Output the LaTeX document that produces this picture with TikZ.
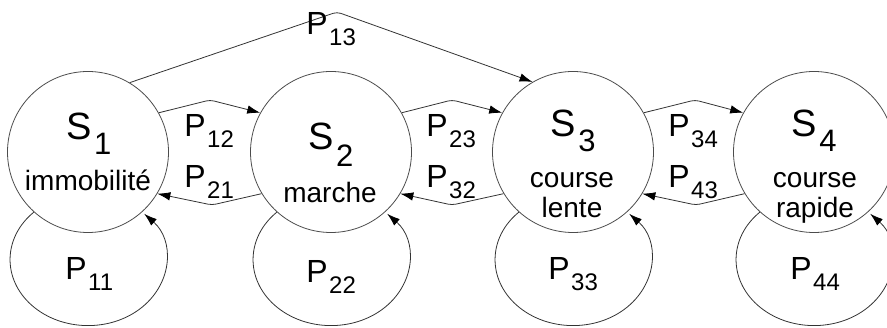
\documentclass[tikz,border=0pt]{standalone}
\usepackage{fontspec}
\setmainfont{Liberation Sans}
\usetikzlibrary{arrows.meta}
\newcommand{\Plab}[1]{{\fontsize{32}{32}\selectfont P\kern1.5pt\raisebox{-11pt}{\fontsize{24}{24}\selectfont #1}}}
\newcommand{\Slab}[2]{{\fontsize{38}{38}\selectfont S\kern2.5pt\raisebox{-#2pt}{\fontsize{31}{31}\selectfont #1}}}
\begin{document}
\begin{tikzpicture}[x=1pt,y=1pt,
  line width=0.8pt,
  state/.style={circle,draw=black!70,minimum size=161pt,inner sep=0pt},
  conn/.style={draw=black!80,rounded corners=4pt,-{Latex[length=13pt,width=8.5pt,black]}},
  loopc/.style={draw=black!80,-{Latex[length=13pt,width=8.5pt,black]}},
  lab/.style={anchor=base west,inner sep=0pt},
  desc/.style={anchor=base,inner sep=0pt,font=\fontsize{28}{28}\selectfont}]
\useasboundingbox (0,0) rectangle (887,327);
% states
\node[state] (S1) at (88,175) {};
\node[state] (S2) at (331,175) {};
\node[state] (S3) at (573,175) {};
\node[state] (S4) at (814,175) {};
% state labels
\node[lab] (t1) at (66,187) {\Slab{1}{15}};
\node[lab] (t2) at (308,177) {\Slab{2}{17}};
\node[lab] (t3) at (550,190) {\Slab{3}{15}};
\node[lab] (t4) at (791,190) {\Slab{4}{15}};
\node[desc] (d1) at (88,136) {immobilité};
\node[desc] (d2) at (330,124) {marche};
\node[desc] (d3a) at (572,139) {course};
\node[desc] (d3b) at (572,109) {lente};
\node[desc] (d4a) at (815,139) {course};
\node[desc] (d4b) at (815,109) {rapide};
% bend points
\coordinate (c13) at (337,315);
\coordinate (c12) at (210,227);
\coordinate (c21) at (212,122);
\coordinate (c23) at (452,227);
\coordinate (c32) at (452,122);
\coordinate (c34) at (695,227);
\coordinate (c43) at (696,122);
% transitions
\draw[conn] (S1.59) -- (c13) -- (S3.120);
\draw[conn] (S1.29) -- (c12) -- (S2.151);
\draw[conn] (S2.211) -- (c21) -- (S1.329);
\draw[conn] (S2.29) -- (c23) -- (S3.151);
\draw[conn] (S3.211) -- (c32) -- (S2.329);
\draw[conn] (S3.29) -- (c34) -- (S4.151);
\draw[conn] (S4.211) -- (c43) -- (S3.329);
% self loops
\draw[loopc] (S1.228) arc[start angle=134,end angle=404,x radius=78,y radius=66];
\draw[loopc] (S2.228) arc[start angle=134,end angle=404,x radius=78,y radius=66];
\draw[loopc] (S3.228) arc[start angle=134,end angle=404,x radius=78,y radius=66];
\draw[loopc] (S4.228) arc[start angle=134,end angle=404,x radius=78,y radius=66];
% transition labels
\node[lab] (p13) at (306,292) {\Plab{13}};
\node[lab] (p12) at (184,190) {\Plab{12}};
\node[lab] (p21) at (184,139) {\Plab{21}};
\node[lab] (p23) at (426,190) {\Plab{23}};
\node[lab] (p32) at (426,139) {\Plab{32}};
\node[lab] (p34) at (668,190) {\Plab{34}};
\node[lab] (p43) at (668,139) {\Plab{43}};
\node[lab] (p11) at (65,47) {\Plab{11}};
\node[lab] (p22) at (306,45) {\Plab{22}};
\node[lab] (p33) at (548,47) {\Plab{33}};
\node[lab] (p44) at (790,47) {\Plab{44}};
\end{tikzpicture}
\end{document}
